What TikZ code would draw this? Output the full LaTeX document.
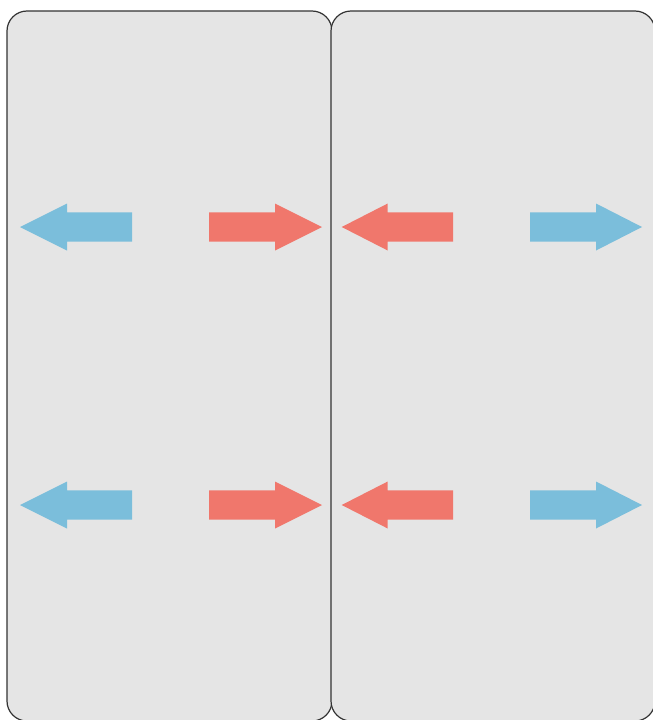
\documentclass[tikz,border=0pt]{standalone}
\begin{document}
\begin{tikzpicture}[x=1pt,y=-1pt,
  panel/.style={draw=black!80,fill=black!10,line width=1.2pt,rounded corners=20pt},
  bluearr/.style={fill={rgb,255:red,123;green,190;blue,219}},
  redarr/.style={fill={rgb,255:red,240;green,119;blue,108}}]
\useasboundingbox (0,0) rectangle (653,720);
\begin{scope}
\clip (0,0) rectangle (653,720);
\draw[panel] (7,11) rectangle (332,721);
\draw[panel] (331,11) rectangle (655,721);
% arrow: tip, headbase, tail; half heights 23.5 and 14.7
\foreach \y in {227,505}{
  % left blue (pointing left)
  \fill[bluearr] (20,\y) -- (67,\y-23.5) -- (67,\y-14.7) -- (132,\y-14.7) -- (132,\y+14.7) -- (67,\y+14.7) -- (67,\y+23.5) -- cycle;
  % left red (pointing right)
  \fill[redarr] (322,\y) -- (275,\y-23.5) -- (275,\y-14.7) -- (209,\y-14.7) -- (209,\y+14.7) -- (275,\y+14.7) -- (275,\y+23.5) -- cycle;
  % right red (pointing left)
  \fill[redarr] (341.7,\y) -- (387.7,\y-23.5) -- (387.7,\y-14.7) -- (453,\y-14.7) -- (453,\y+14.7) -- (387.7,\y+14.7) -- (387.7,\y+23.5) -- cycle;
  % right blue (pointing right)
  \fill[bluearr] (642,\y) -- (596,\y-23.5) -- (596,\y-14.7) -- (530,\y-14.7) -- (530,\y+14.7) -- (596,\y+14.7) -- (596,\y+23.5) -- cycle;
}
\end{scope}
\end{tikzpicture}
\end{document}
